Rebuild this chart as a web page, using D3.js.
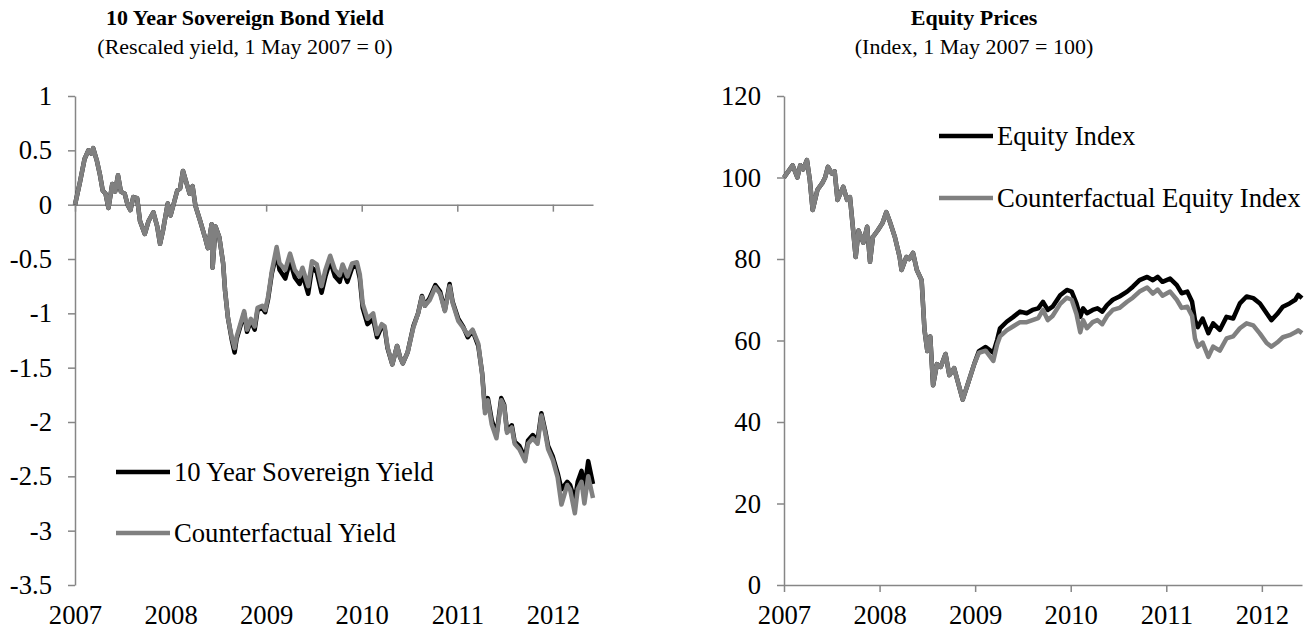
<!DOCTYPE html>
<html>
<head>
<meta charset="utf-8">
<script src="https://cdn.jsdelivr.net/npm/d3@7"></script>
<style>
  html, body { margin: 0; padding: 0; background: #fff; }
  svg { display: block; }
  text { font-family: "Liberation Serif", "Times New Roman", serif; fill: #000; }
</style>
</head>
<body>
<svg id="chart" width="1314" height="633"></svg>
<script>
// ---------------- DATA ----------------
const yearTicks = [2007, 2008, 2009, 2010, 2011, 2012];
const yieldTicks = [1, 0.5, 0, -0.5, -1, -1.5, -2, -2.5, -3, -3.5];
const equityTicks = [0, 20, 40, 60, 80, 100, 120];

const yieldTitle = "10 Year Sovereign Bond Yield";
const yieldSubtitle = "(Rescaled yield, 1 May 2007 = 0)";
const equityTitle = "Equity Prices";
const equitySubtitle = "(Index, 1 May 2007 = 100)";
const yieldSeriesNames = ["10 Year Sovereign Yield", "Counterfactual Yield"];
const equitySeriesNames = ["Equity Index", "Counterfactual Equity Index"];

// time in years (axis tick "2007" = 1 May 2007)
const yieldDates = [
  2007.00, 2007.05, 2007.10, 2007.14, 2007.17, 2007.19, 2007.23, 2007.26, 2007.29, 2007.32,
  2007.35, 2007.39, 2007.42, 2007.45, 2007.48, 2007.52, 2007.55, 2007.58, 2007.61, 2007.65,
  2007.68, 2007.73, 2007.77, 2007.82, 2007.86, 2007.89, 2007.92, 2007.97, 2008.00, 2008.07,
  2008.10, 2008.13, 2008.16, 2008.20, 2008.23, 2008.26, 2008.31, 2008.36, 2008.39, 2008.43,
  2008.44, 2008.47, 2008.51, 2008.55, 2008.57, 2008.60, 2008.64, 2008.67, 2008.69, 2008.73,
  2008.77, 2008.80, 2008.84, 2008.88, 2008.91, 2008.96, 2008.99, 2009.02, 2009.06, 2009.11,
  2009.14, 2009.20, 2009.25, 2009.30, 2009.35, 2009.38, 2009.44, 2009.48, 2009.53, 2009.58,
  2009.62, 2009.67, 2009.72, 2009.77, 2009.80, 2009.85, 2009.90, 2009.95, 2009.98, 2010.01,
  2010.06, 2010.12, 2010.16, 2010.21, 2010.24, 2010.27, 2010.32, 2010.37, 2010.40, 2010.43,
  2010.48, 2010.54, 2010.59, 2010.63, 2010.66, 2010.71, 2010.77, 2010.82, 2010.87, 2010.92,
  2010.95, 2011.01, 2011.06, 2011.11, 2011.16, 2011.22, 2011.26, 2011.29, 2011.32, 2011.36,
  2011.41, 2011.46, 2011.49, 2011.52, 2011.57, 2011.60, 2011.65, 2011.71, 2011.74, 2011.79,
  2011.84, 2011.88, 2011.92, 2011.95, 2012.00, 2012.05, 2012.09, 2012.15, 2012.18, 2012.23,
  2012.26, 2012.30, 2012.33, 2012.37, 2012.42
];
const yieldActual = [
  0.00, 0.20, 0.42, 0.50, 0.47, 0.52, 0.40, 0.28, 0.13, 0.10,
  -0.03, 0.19, 0.12, 0.27, 0.12, 0.10, 0.00, -0.05, 0.07, 0.06,
  -0.15, -0.27, -0.15, -0.07, -0.20, -0.36, -0.24, 0.01, -0.10, 0.13,
  0.15, 0.31, 0.22, 0.10, 0.17, -0.01, -0.15, -0.30, -0.40, -0.18,
  -0.58, -0.20, -0.30, -0.54, -0.79, -1.04, -1.24, -1.36, -1.24, -1.12,
  -1.00, -1.17, -1.07, -1.15, -0.97, -0.95, -0.99, -0.87, -0.63, -0.45,
  -0.60, -0.68, -0.52, -0.67, -0.73, -0.64, -0.82, -0.58, -0.62, -0.81,
  -0.66, -0.52, -0.66, -0.71, -0.60, -0.71, -0.58, -0.56, -0.68, -0.95,
  -1.10, -1.05, -1.22, -1.12, -1.14, -1.32, -1.47, -1.30, -1.40, -1.46,
  -1.36, -1.12, -1.00, -0.84, -0.93, -0.86, -0.74, -0.80, -0.97, -0.73,
  -0.89, -1.05, -1.12, -1.22, -1.16, -1.30, -1.55, -1.88, -1.78, -1.98,
  -2.12, -1.78, -1.84, -2.08, -2.03, -2.18, -2.22, -2.33, -2.17, -2.12,
  -2.17, -1.92, -2.08, -2.22, -2.32, -2.47, -2.62, -2.55, -2.58, -2.72,
  -2.55, -2.45, -2.62, -2.36, -2.57
];
const yieldCounterfactual = [
  0.00, 0.20, 0.42, 0.50, 0.47, 0.52, 0.40, 0.28, 0.13, 0.10,
  -0.03, 0.19, 0.12, 0.27, 0.12, 0.10, 0.00, -0.05, 0.07, 0.06,
  -0.15, -0.27, -0.15, -0.07, -0.20, -0.36, -0.24, 0.01, -0.10, 0.13,
  0.15, 0.31, 0.22, 0.10, 0.17, -0.01, -0.15, -0.30, -0.40, -0.18,
  -0.58, -0.20, -0.30, -0.54, -0.79, -1.04, -1.22, -1.32, -1.22, -1.10,
  -0.98, -1.15, -1.05, -1.12, -0.95, -0.93, -0.97, -0.85, -0.61, -0.39,
  -0.54, -0.60, -0.45, -0.60, -0.66, -0.58, -0.75, -0.52, -0.55, -0.75,
  -0.60, -0.47, -0.60, -0.65, -0.55, -0.66, -0.54, -0.53, -0.64, -0.91,
  -1.05, -1.00, -1.19, -1.10, -1.12, -1.31, -1.47, -1.30, -1.40, -1.46,
  -1.36, -1.13, -1.00, -0.85, -0.93, -0.88, -0.76, -0.82, -0.98, -0.75,
  -0.90, -1.07, -1.13, -1.20, -1.15, -1.28, -1.56, -1.92, -1.80, -2.02,
  -2.15, -1.80, -1.85, -2.10, -2.05, -2.20, -2.25, -2.36, -2.20, -2.15,
  -2.20, -1.94, -2.10, -2.25, -2.35, -2.51, -2.76, -2.58, -2.62, -2.84,
  -2.62, -2.55, -2.75, -2.50, -2.70
];

const equityDates = [
  2007.00, 2007.09, 2007.14, 2007.17, 2007.20, 2007.24, 2007.27, 2007.30, 2007.35, 2007.40,
  2007.43, 2007.46, 2007.50, 2007.53, 2007.56, 2007.62, 2007.66, 2007.69, 2007.72, 2007.75,
  2007.78, 2007.83, 2007.87, 2007.90, 2007.93, 2007.98, 2008.03, 2008.07, 2008.11, 2008.16,
  2008.21, 2008.23, 2008.28, 2008.31, 2008.35, 2008.39, 2008.44, 2008.47, 2008.50, 2008.53,
  2008.56, 2008.60, 2008.64, 2008.69, 2008.73, 2008.78, 2008.82, 2008.87, 2008.93, 2008.99,
  2009.04, 2009.11, 2009.19, 2009.23, 2009.26, 2009.33, 2009.40, 2009.47, 2009.54, 2009.60,
  2009.66, 2009.71, 2009.76, 2009.81, 2009.89, 2009.96, 2010.01, 2010.06, 2010.10, 2010.13,
  2010.17, 2010.23, 2010.28, 2010.33, 2010.38, 2010.44, 2010.51, 2010.59, 2010.65, 2010.72,
  2010.80, 2010.86, 2010.91, 2010.96, 2011.04, 2011.11, 2011.16, 2011.22, 2011.27, 2011.30,
  2011.33, 2011.38, 2011.44, 2011.49, 2011.56, 2011.63, 2011.70, 2011.77, 2011.84, 2011.91,
  2011.98, 2012.05, 2012.10, 2012.16, 2012.22, 2012.29, 2012.35, 2012.38, 2012.42
];
const equityActual = [
  100.0, 103.0, 100.0, 103.0, 102.0, 104.3, 99.4, 92.0, 97.0, 98.6,
  100.0, 102.6, 101.0, 101.5, 94.5, 97.7, 94.5, 95.2, 87.9, 80.5,
  87.0, 84.0, 87.9, 79.3, 85.4, 87.0, 88.8, 91.5, 89.0, 85.4,
  80.5, 77.3, 80.5, 80.0, 81.5, 77.3, 74.8, 62.6, 57.4, 61.0,
  49.0, 54.2, 53.5, 56.7, 51.5, 53.2, 49.8, 45.5, 49.8, 54.2,
  57.4, 58.4, 57.0, 60.1, 63.0, 64.6, 65.8, 67.1, 66.7, 67.5,
  67.9, 69.5, 67.5, 68.3, 71.1, 72.4, 72.0, 69.1, 65.8, 67.9,
  66.7, 67.5, 67.9, 67.1, 68.7, 70.0, 70.8, 72.0, 73.2, 74.8,
  75.6, 74.8, 75.6, 74.4, 75.2, 73.6, 71.6, 72.0, 69.5, 65.0,
  63.3, 65.4, 61.8, 64.2, 62.6, 65.8, 65.4, 69.1, 70.8, 70.4,
  69.1, 66.7, 65.0, 66.5, 68.3, 69.1, 70.0, 71.2, 70.4
];
const equityCounterfactual = [
  100.0, 103.0, 100.0, 103.0, 102.0, 104.3, 99.4, 92.0, 97.0, 98.6,
  100.0, 102.6, 101.0, 101.5, 94.5, 97.7, 94.5, 95.2, 87.9, 80.5,
  87.0, 84.0, 87.9, 79.3, 85.4, 87.0, 88.8, 91.5, 89.0, 85.4,
  80.5, 77.3, 80.5, 80.0, 81.5, 77.3, 74.8, 62.6, 57.4, 61.0,
  49.0, 54.2, 53.5, 56.7, 51.5, 53.2, 49.8, 45.5, 49.8, 54.2,
  57.0, 57.5, 55.0, 59.0, 61.0, 62.5, 63.5, 64.5, 64.5, 65.0,
  65.5, 67.5, 65.0, 66.0, 69.0, 70.5, 70.0, 66.5, 62.0, 65.0,
  63.0, 64.5, 65.0, 64.0, 66.0, 67.5, 68.0, 69.5, 70.5, 72.0,
  73.0, 71.5, 72.5, 71.0, 72.0, 70.0, 68.0, 68.3, 66.0, 60.5,
  58.5, 59.5, 56.0, 58.5, 57.5, 60.5, 61.0, 63.0, 64.2, 63.7,
  61.7, 59.4, 58.5, 59.5, 60.8, 61.3, 62.0, 62.5, 61.8
];

// ---------------- DRAWING ----------------
const svg = d3.select("#chart");
const FONT = 26.67;
const TITLE_FONT = 22;
const AXIS_COLOR = "#868686";
const COLOR_ACTUAL = "#000000";
const COLOR_CF = "#808080";

function drawPanel(cfg) {
  const g = svg.append("g");
  const x = d3.scaleLinear().domain([2007, 2012.42]).range([cfg.left, cfg.left + 518]);
  const y = d3.scaleLinear().domain(cfg.yDomain).range([585, 96]);

  // titles
  g.append("text").attr("x", cfg.titleX).attr("y", 25)
    .attr("text-anchor", "middle").attr("font-weight", "bold")
    .attr("font-size", TITLE_FONT).text(cfg.title);
  g.append("text").attr("x", cfg.titleX).attr("y", 54)
    .attr("text-anchor", "middle").attr("font-size", TITLE_FONT).text(cfg.subtitle);

  // y axis
  const yAxis = d3.axisLeft(y).tickValues(cfg.yTicks).tickSize(7).tickSizeOuter(0)
    .tickPadding(16).tickFormat(d3.format("~g"));
  const ya = g.append("g").attr("transform", `translate(${cfg.left},0)`).call(yAxis);
  ya.select(".domain").attr("stroke", AXIS_COLOR).attr("stroke-width", 1.5);
  ya.selectAll(".tick line").attr("stroke", AXIS_COLOR).attr("stroke-width", 1.5);
  ya.selectAll(".tick text").attr("font-size", FONT)
    .attr("font-family", '"Liberation Serif", serif').attr("fill", "#000")
    .text(d => d3.format("~g")(d).replace("−", "-"));

  // x axis at the baseline value
  const y0 = y(cfg.xAxisAt);
  const xAxis = d3.axisBottom(x).tickValues(yearTicks).tickSize(7).tickSizeOuter(0)
    .tickFormat(d3.format("d"));
  const xa = g.append("g").attr("transform", `translate(0,${y0})`).call(xAxis);
  xa.select(".domain").attr("stroke", AXIS_COLOR).attr("stroke-width", 1.5);
  xa.selectAll(".tick line").attr("stroke", AXIS_COLOR).attr("stroke-width", 1.5);
  xa.selectAll(".tick text").attr("font-size", FONT)
    .attr("font-family", '"Liberation Serif", serif').attr("fill", "#000")
    .attr("dy", null).attr("y", 624 - y0);

  // lines
  const lineA = d3.line().x((d, i) => x(cfg.dates[i])).y(d => y(d));
  g.append("path").datum(cfg.actual).attr("d", lineA)
    .attr("fill", "none").attr("stroke", COLOR_ACTUAL).attr("stroke-width", 4.5)
    .attr("stroke-linejoin", "round");
  g.append("path").datum(cfg.cf).attr("d", lineA)
    .attr("fill", "none").attr("stroke", COLOR_CF).attr("stroke-width", 4.5)
    .attr("stroke-linejoin", "round");

  // legend
  const lg = g.append("g");
  cfg.names.forEach((name, i) => {
    const ly = cfg.legendY[i];
    lg.append("line").attr("x1", cfg.legendX).attr("x2", cfg.legendX + 54)
      .attr("y1", ly).attr("y2", ly)
      .attr("stroke", i === 0 ? COLOR_ACTUAL : COLOR_CF).attr("stroke-width", 4.5);
    lg.append("text").attr("x", cfg.legendX + 58).attr("y", ly)
      .attr("dy", "0.33em").attr("font-size", FONT).text(name);
  });
}

drawPanel({
  left: 75, yDomain: [-3.5, 1], yTicks: yieldTicks, xAxisAt: 0,
  title: yieldTitle, subtitle: yieldSubtitle, titleX: 245,
  dates: yieldDates, actual: yieldActual, cf: yieldCounterfactual,
  names: yieldSeriesNames, legendX: 116, legendY: [472, 533]
});
drawPanel({
  left: 784, yDomain: [0, 120], yTicks: equityTicks, xAxisAt: 0,
  title: equityTitle, subtitle: equitySubtitle, titleX: 974,
  dates: equityDates, actual: equityActual, cf: equityCounterfactual,
  names: equitySeriesNames, legendX: 939, legendY: [136, 198]
});
</script>
</body>
</html>
